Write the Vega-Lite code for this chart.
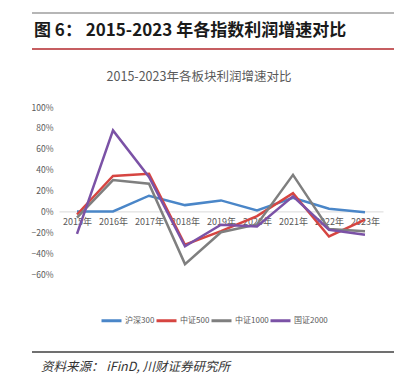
{
  "$schema": "https://vega.github.io/schema/vega-lite/v6.json",
  "background": "white",
  "padding": {"left": 31, "top": 12, "right": 10, "bottom": 0},
  "autosize": {"type": "pad"},
  "spacing": 20,
  "resolve": {"scale": {"color": "independent", "x": "independent", "y": "independent"}},
  "config": {"view": {"stroke": null}, "font": "Noto Sans CJK SC"},
  "vconcat": [
    {
      "width": 335,
      "height": 36,
      "data": {"values": [
        {"part": "top", "kind": "rule"},
        {"part": "text", "kind": "text", "label": "图 6： 2015-2023 年各指数利润增速对比"},
        {"part": "bottom", "kind": "rule"}
      ]},
      "encoding": {"y": {"field": "part", "type": "nominal", "scale": {"type": "point", "domain": ["top", "text", "bottom"], "padding": 0}, "axis": null}},
      "layer": [
        {
          "transform": [{"filter": "datum.kind == 'rule'"}],
          "mark": {"type": "rule", "strokeWidth": 1.5},
          "encoding": {
            "x": {"datum": -27, "type": "quantitative", "scale": {"domain": [0, 335], "nice": false, "zero": false}, "axis": null},
            "x2": {"datum": 335},
            "color": {"field": "part", "type": "nominal", "scale": {"domain": ["top", "bottom"], "range": ["#9e9e9e", "#b3282d"]}, "legend": null}
          }
        },
        {
          "transform": [{"filter": "datum.kind == 'text'"}],
          "mark": {"type": "text", "align": "left", "baseline": "middle", "fontSize": 17, "fontWeight": "bold", "color": "#1a1a1a"},
          "encoding": {
            "x": {"datum": -25, "type": "quantitative"},
            "text": {"field": "label"}
          }
        }
      ]
    },
    {
      "width": 324,
      "height": 167,
      "title": {"text": "2015-2023年各板块利润增速对比", "fontSize": 12.5, "fontWeight": "normal", "color": "#595959", "offset": 20, "anchor": "middle", "dx": -22},
      "data": {"values": [
        {"year": "2015年", "index": "沪深300", "growth": 0.0},
        {"year": "2016年", "index": "沪深300", "growth": 0.0},
        {"year": "2017年", "index": "沪深300", "growth": 0.15},
        {"year": "2018年", "index": "沪深300", "growth": 0.06},
        {"year": "2019年", "index": "沪深300", "growth": 0.105},
        {"year": "2020年", "index": "沪深300", "growth": 0.01},
        {"year": "2021年", "index": "沪深300", "growth": 0.13},
        {"year": "2022年", "index": "沪深300", "growth": 0.025},
        {"year": "2023年", "index": "沪深300", "growth": -0.008},
        {"year": "2015年", "index": "中证500", "growth": -0.03},
        {"year": "2016年", "index": "中证500", "growth": 0.34},
        {"year": "2017年", "index": "中证500", "growth": 0.36},
        {"year": "2018年", "index": "中证500", "growth": -0.32},
        {"year": "2019年", "index": "中证500", "growth": -0.19},
        {"year": "2020年", "index": "中证500", "growth": -0.045},
        {"year": "2021年", "index": "中证500", "growth": 0.175},
        {"year": "2022年", "index": "中证500", "growth": -0.24},
        {"year": "2023年", "index": "中证500", "growth": -0.08},
        {"year": "2015年", "index": "中证1000", "growth": -0.06},
        {"year": "2016年", "index": "中证1000", "growth": 0.30},
        {"year": "2017年", "index": "中证1000", "growth": 0.265},
        {"year": "2018年", "index": "中证1000", "growth": -0.505},
        {"year": "2019年", "index": "中证1000", "growth": -0.20},
        {"year": "2020年", "index": "中证1000", "growth": -0.125},
        {"year": "2021年", "index": "中证1000", "growth": 0.35},
        {"year": "2022年", "index": "中证1000", "growth": -0.17},
        {"year": "2023年", "index": "中证1000", "growth": -0.19},
        {"year": "2015年", "index": "国证2000", "growth": -0.215},
        {"year": "2016年", "index": "国证2000", "growth": 0.776},
        {"year": "2017年", "index": "国证2000", "growth": 0.33},
        {"year": "2018年", "index": "国证2000", "growth": -0.335},
        {"year": "2019年", "index": "国证2000", "growth": -0.128},
        {"year": "2020年", "index": "国证2000", "growth": -0.144},
        {"year": "2021年", "index": "国证2000", "growth": 0.144},
        {"year": "2022年", "index": "国证2000", "growth": -0.176},
        {"year": "2023年", "index": "国证2000", "growth": -0.224}
      ]},
      "mark": {"type": "line", "strokeWidth": 2.5},
      "encoding": {
        "x": {
          "field": "year", "type": "ordinal", "sort": null,
          "scale": {"type": "point", "padding": 0.5},
          "axis": {"title": null, "labelAngle": 0, "offset": -62.6, "ticks": false, "tickSize": 0, "domainColor": "#d9d9d9", "domainWidth": 1, "labelFontSize": 9, "labelColor": "#595959", "labelPadding": 6, "grid": false}
        },
        "y": {
          "field": "growth", "type": "quantitative",
          "scale": {"domain": [-0.6, 1.0], "nice": false},
          "axis": {"title": null, "values": [-0.6, -0.4, -0.2, 0, 0.2, 0.4, 0.6, 0.8, 1.0], "format": ".0%", "grid": false, "domain": false, "ticks": false, "tickSize": 0, "labelFontSize": 8.5, "labelColor": "#595959", "labelPadding": 6}
        },
        "color": {
          "field": "index", "type": "nominal",
          "scale": {"domain": ["沪深300", "中证500", "中证1000", "国证2000"], "range": ["#4a86c8", "#d64541", "#7f7f7f", "#7b52a6"]},
          "legend": {"orient": "none", "legendX": 37, "legendY": 198, "direction": "horizontal", "columns": 4, "title": null, "symbolType": "stroke", "symbolSize": 400, "symbolStrokeWidth": 3, "labelFontSize": 8, "labelColor": "#595959", "labelOffset": 2, "columnPadding": -9, "padding": 4}
        }
      }
    },
    {
      "width": 335,
      "height": 15,
      "data": {"values": [
        {"fpart": "line", "fkind": "rule"},
        {"fpart": "text", "fkind": "text", "label": "资料来源：   iFinD, 川财证券研究所"}
      ]},
      "encoding": {"y": {"field": "fpart", "type": "nominal", "scale": {"type": "point", "domain": ["line", "text"], "padding": 0}, "axis": null}},
      "layer": [
        {
          "transform": [{"filter": "datum.fkind == 'rule'"}],
          "mark": {"type": "rule", "strokeWidth": 1.5, "color": "#404040"},
          "encoding": {
            "x": {"datum": -27, "type": "quantitative", "scale": {"domain": [0, 335], "nice": false, "zero": false}, "axis": null},
            "x2": {"datum": 335}
          }
        },
        {
          "transform": [{"filter": "datum.fkind == 'text'"}],
          "mark": {"type": "text", "align": "left", "baseline": "middle", "fontSize": 12.5, "fontStyle": "italic", "color": "#333333"},
          "encoding": {
            "x": {"datum": -18, "type": "quantitative"},
            "text": {"field": "label"}
          }
        }
      ]
    }
  ]
}
